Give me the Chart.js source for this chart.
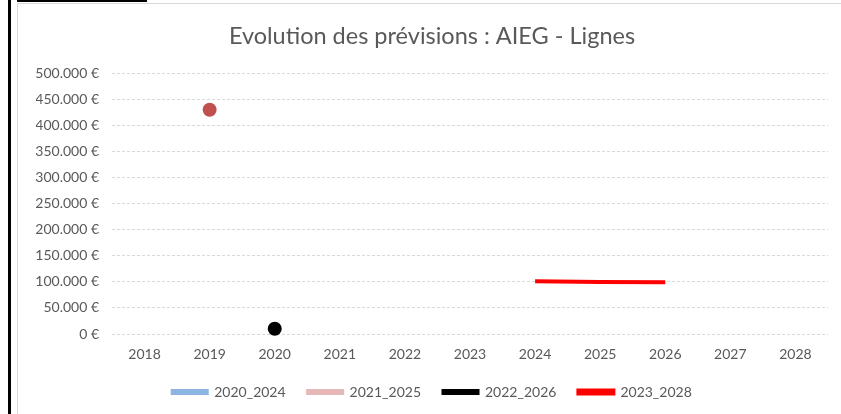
<!DOCTYPE html>
<html>
<head>
<meta charset="utf-8">
<script src="https://cdn.jsdelivr.net/npm/chart.js@4"></script>
<style>
    html, body { margin: 0; padding: 0; background: #fff; }
    body { width: 841px; height: 414px; position: relative; overflow: hidden; }
    .frame-left { position: absolute; left: 8px; top: 0; width: 3px; height: 414px; background: #000; }
    .frame-top { position: absolute; left: 17px; top: 0; width: 130px; height: 2px; background: #000; }
    .box { position: absolute; left: 17px; top: 3px; width: 824px; height: 411px;
           border-left: 1px solid #d9d9d9; border-top: 1px solid #d9d9d9; box-sizing: border-box; }
    #wrap { position: absolute; left: 18px; top: 4px; width: 823px; height: 410px; }
</style>
</head>
<body>
<div class="frame-left"></div>
<div class="frame-top"></div>
<div class="box"></div>
<div id="wrap"><canvas id="chart"></canvas></div>
<script>
// Data
const years = ['2018', '2019', '2020', '2021', '2022', '2023', '2024', '2025', '2026', '2027', '2028'];
const serieHorsLegende = [null, 430000, null, null, null, null, null, null, null, null, null];
const serie2020_2024 = [null, null, null, null, null, null, null, null, null, null, null];
const serie2021_2025 = [null, null, null, null, null, null, null, null, null, null, null];
const serie2022_2026 = [null, null, 10000, null, null, null, null, null, null, null, null];
const serie2023_2028 = [null, null, null, null, null, null, 101000, 99500, 99000, null, null];
const yTicks = { min: 0, max: 500000, step: 50000 };

const textColor = '#595959';
const font = 'Lato, "Liberation Sans", sans-serif';

function euro(v) {
    return String(v).replace(/\B(?=(\d{3})+(?!\d))/g, '.') + ' €';
}

const ctx = document.getElementById('chart').getContext('2d');
const chart = new Chart(ctx, {
    type: 'line',
    data: {
        labels: years,
        datasets: [
            {
                label: 'hors',
                data: serieHorsLegende,
                borderColor: '#c0504d',
                backgroundColor: '#c0504d',
                pointRadius: 7,
                pointBorderWidth: 0,
                showLine: false,
                clip: false
            },
            {
                label: '2020_2024',
                data: serie2020_2024,
                borderColor: '#8eb4e3',
                backgroundColor: '#8eb4e3',
                borderWidth: 3,
                pointRadius: 0
            },
            {
                label: '2021_2025',
                data: serie2021_2025,
                borderColor: '#e6b9b8',
                backgroundColor: '#e6b9b8',
                borderWidth: 3,
                pointRadius: 0
            },
            {
                label: '2022_2026',
                data: serie2022_2026,
                borderColor: '#000000',
                backgroundColor: '#000000',
                borderWidth: 3,
                pointRadius: 7,
                pointBorderWidth: 0,
                clip: false
            },
            {
                label: '2023_2028',
                data: serie2023_2028,
                borderColor: '#ff0000',
                backgroundColor: '#ff0000',
                borderWidth: 4,
                pointRadius: 0,
                clip: false
            }
        ]
    },
    options: {
        responsive: true,
        maintainAspectRatio: false,
        animation: false,
        layout: { padding: { left: 18, right: 13, top: 0, bottom: 5 } },
        plugins: {
            title: {
                display: true,
                text: 'Evolution des prévisions : AIEG - Lignes',
                color: textColor,
                font: { family: font, size: 23.5, weight: 'normal' },
                padding: { top: 18, bottom: 23 }
            },
            legend: {
                position: 'bottom',
                labels: {
                    color: textColor,
                    font: { family: font, size: 14 },
                    boxWidth: 35,
                    boxHeight: 3,
                    padding: 22,
                    filter: (item) => item.text !== 'hors'
                }
            },
            tooltip: { enabled: false }
        },
        scales: {
            x: {
                offset: true,
                afterFit: (s) => { s.height = 29; },
                grid: { display: false, drawTicks: false },
                border: { display: false },
                ticks: { color: textColor, font: { family: font, size: 14 }, padding: 12 }
            },
            y: {
                min: yTicks.min,
                max: yTicks.max,
                afterFit: (s) => { s.width = 76; },
                grid: { color: '#d9d9d9', drawTicks: false, borderDash: [3, 2] },
                border: { display: false, dash: [3, 2] },
                ticks: {
                    stepSize: yTicks.step,
                    color: textColor,
                    font: { family: font, size: 14 },
                    padding: 13,
                    callback: (v) => euro(v)
                }
            }
        }
    }
});
</script>
</body>
</html>
